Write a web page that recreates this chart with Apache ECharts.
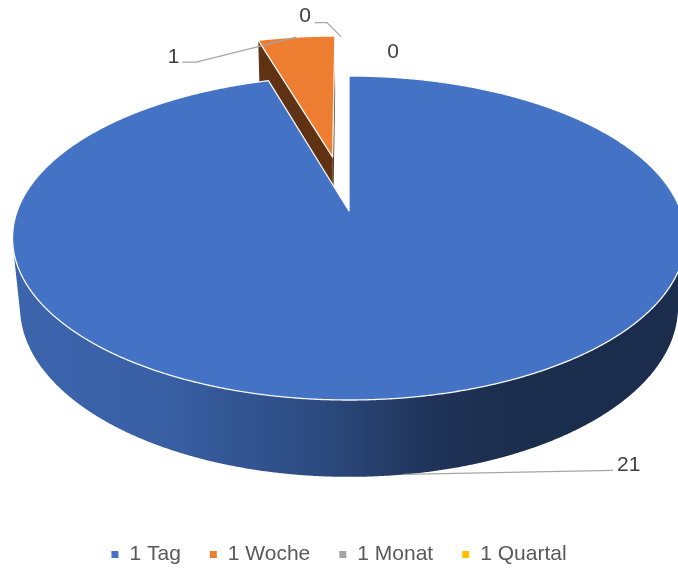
<!DOCTYPE html>
<html><head><meta charset="utf-8">
<script src="https://cdn.jsdelivr.net/npm/echarts@6/dist/echarts.min.js"></script>
<style>html,body{margin:0;padding:0;background:#fff}#c{width:678px;height:571px}</style>
</head><body><div id="c"></div>
<script>
// ---- data ----
const categories = ['1 Tag', '1 Woche', '1 Monat', '1 Quartal'];
const values = [21, 1, 0, 0];
const colors = ['#4472C4', '#ED7D31', '#A5A5A5', '#FFC000'];

// ---- layout (3D projection of the pie) ----
const V = {cx: 349, cy: 211, f: 1726, fx: 1745, D: 5.26, sin: 0.48, cos: 0.877, h: 0.243};
const EXPLODE = [0, 0.367, 0.367, 0.367];
const LABEL_LAYOUT = [
  {anchor: 'bottom', leader: [[209, -4]], text: [213, -9], align: 'left'},
  {anchor: 'top', leader: [[-100, 25], [-114, 25]], text: [-117, 20], align: 'right'},
  {anchor: 'top', start: [-8, 1], leader: [[-22, -13], [-34, -13]], text: [-38, -19], align: 'right'},
  {anchor: 'top', leader: null, text: [44, 17], align: 'center'}
];
const SIDE_SHADE = [[0, 0.89], [0.24, 0.84], [0.49, 0.63], [0.64, 0.45], [0.75, 0.40], [1, 0.39]];
const RADIAL_SHADE = 0.40;

const total = values.reduce((a, b) => a + b, 0);
const TAU = Math.PI * 2;

function proj(X, Zw, Yd) {
  const z = V.D - Zw * V.cos + Yd * V.sin;
  return [V.cx + V.fx * X / z, V.cy + V.f * (Zw * V.sin + Yd * V.cos) / z];
}
function shade(hex, k) {
  const n = parseInt(hex.slice(1), 16);
  const r = Math.round(((n >> 16) & 255) * k), g = Math.round(((n >> 8) & 255) * k), b = Math.round((n & 255) * k);
  return 'rgb(' + r + ',' + g + ',' + b + ')';
}
function polyArea(p) {
  let a = 0;
  for (let k = 0; k < p.length; k++) {
    const q = p[(k + 1) % p.length];
    a += p[k][0] * q[1] - q[0] * p[k][1];
  }
  return Math.abs(a) / 2;
}
function sliceAngles(i) {
  let cum = 0;
  for (let j = 0; j < i; j++) cum += values[j];
  const a0 = cum / total * TAU, a1 = (cum + values[i]) / total * TAU;
  return [a0, a1, (a0 + a1) / 2];
}

function renderSlice(i, api) {
  const [a0, a1, mid] = sliceAngles(i);
  const e = EXPLODE[i];
  const ox = e * Math.sin(mid), oz = -e * Math.cos(mid);
  const pt = (r, t, yd) => proj(ox + r * Math.sin(t), oz - r * Math.cos(t), yd);
  const Pz = V.D * V.cos;
  const children = [];
  const col = colors[i];
  if (values[i] > 0) {
    const full = values[i] >= total;
    // radial faces
    if (!full) {
      [[a0, a0 - Math.PI / 2], [a1, a1 + Math.PI / 2]].forEach(([t, nt]) => {
        const nx = Math.sin(nt), nz = -Math.cos(nt);
        const d = nx * (0 - ox) + nz * (Pz - oz);
        const pts = [pt(0, t, 0), pt(1, t, 0), pt(1, t, V.h), pt(0, t, V.h)];
        if (d > 1e-3 && polyArea(pts) > 60) {
          children.push({type: 'polygon', shape: {points: pts}, style: {fill: shade(col, RADIAL_SHADE)}});
        }
      });
    }
    // outer curved side
    const steps = Math.max(2, Math.ceil((a1 - a0) / (Math.PI / 720)));
    const runs = []; let run = [];
    for (let k = 0; k <= steps; k++) {
      const t = a0 + (a1 - a0) * k / steps;
      const px = ox + Math.sin(t), pz = oz - Math.cos(t);
      const d = Math.sin(t) * (0 - px) + (-Math.cos(t)) * (Pz - pz);
      if (d > 0) run.push(t); else { if (run.length > 1) runs.push(run); run = []; }
    }
    if (run.length > 1) runs.push(run);
    const W = api.getWidth();
    const grad = new echarts.graphic.LinearGradient(0, 0, W, 0,
      SIDE_SHADE.map(([o, k]) => ({offset: o, color: shade(col, k)})), true);
    runs.forEach(r => {
      const pts = r.map(t => pt(1, t, 0)).concat(r.slice().reverse().map(t => pt(1, t, V.h)));
      children.push({type: 'polygon', shape: {points: pts}, style: {fill: grad}});
    });
    // top face
    const top = [];
    if (!full) top.push(pt(0, 0, 0));
    for (let k = 0; k <= steps; k++) top.push(pt(1, a0 + (a1 - a0) * k / steps, 0));
    children.push({type: 'polygon', shape: {points: top},
      style: {fill: col, stroke: 'rgba(255,255,255,0.95)', lineWidth: 1.3, lineJoin: 'round'}});
  }
  // data label
  const L = LABEL_LAYOUT[i];
  const anc = L.anchor === 'bottom' ? pt(1, mid, V.h) : pt(1, mid, 0);
  if (L.leader) {
    const s = L.start || [0, 0];
    const pts = [[anc[0] + s[0], anc[1] + s[1]]].concat(L.leader.map(p => [anc[0] + p[0], anc[1] + p[1]]));
    children.push({type: 'polyline', shape: {points: pts}, style: {stroke: '#A6A6A6', lineWidth: 1.3, fill: null}});
  }
  children.push({type: 'text', style: {
    text: String(api.value(0)), x: anc[0] + L.text[0], y: anc[1] + L.text[1],
    fill: '#404040', fontSize: 21, fontFamily: 'Liberation Sans, Arial, sans-serif',
    align: L.align, verticalAlign: 'middle', textAlign: L.align, textVerticalAlign: 'middle'}});
  return {type: 'group', children};
}

// nearer slices painted later
const depth = categories.map((_, i) => {
  const m = sliceAngles(i)[2];
  return values[i] > 0 ? -Math.cos(m) : -2;
});
const order = depth.map((d, i) => [d, i]).sort((a, b) => a[0] - b[0]).map(p => p[1]);

const chart = echarts.init(document.getElementById('c'));
chart.setOption({
  animation: false,
  legend: {
    data: categories, top: 539, left: 'center', icon: 'rect', itemWidth: 7, itemHeight: 7, itemGap: 29,
    selectedMode: false,
    textStyle: {color: '#595959', fontSize: 21, fontFamily: 'Liberation Sans, Arial, sans-serif', padding: [0, 0, 0, 6]}
  },
  series: categories.map((name, i) => ({
    type: 'custom', name, coordinateSystem: 'none', silent: true,
    z: 2 + order.indexOf(i),
    itemStyle: {color: colors[i]},
    data: [values[i]],
    renderItem: (params, api) => renderSlice(i, api)
  }))
});
</script></body></html>
